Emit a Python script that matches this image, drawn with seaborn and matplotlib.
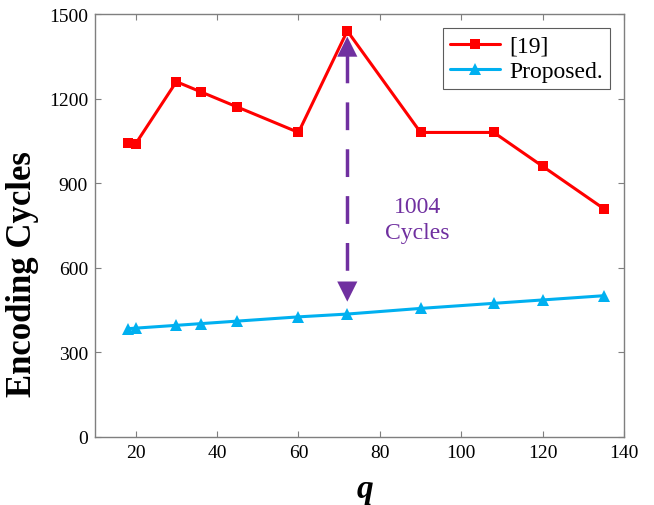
import matplotlib
matplotlib.use("Agg")
import matplotlib.pyplot as plt
import seaborn as sns
import pandas as pd

q_values = [18, 20, 30, 36, 45, 60, 72, 90, 108, 120, 135]
ref19_cycles = [1044, 1040, 1260, 1224, 1170, 1080, 1440, 1080, 1080, 960, 810]
proposed_cycles = [384, 386, 396, 402, 411, 426, 436, 456, 474, 486, 501]
series_names = ["[19]", "Proposed."]
x_ticks = [20, 40, 60, 80, 100, 120, 140]
y_ticks = [0, 300, 600, 900, 1200, 1500]
gap_label = "1004\nCycles"
arrow_q = 72
arrow_low = 480
arrow_high = 1420

sns.set_theme(style="ticks")
plt.rcParams["font.family"] = ["Liberation Serif", "DejaVu Serif"]
plt.rcParams["text.color"] = "black"
plt.rcParams["xtick.labelcolor"] = "black"
plt.rcParams["ytick.labelcolor"] = "black"
plt.rcParams["axes.labelcolor"] = "black"

red = "#FF0000"
blue = "#00B0F0"
purple = "#7030A0"
spine_col = "#7F7F7F"

df19 = pd.DataFrame({"q": q_values, "cycles": ref19_cycles, "method": series_names[0]})
dfp = pd.DataFrame({"q": q_values, "cycles": proposed_cycles, "method": series_names[1]})

fig = plt.figure(figsize=(6.54, 5.06), dpi=100)
ax = fig.add_axes([95 / 654, 1 - 438 / 506, (624 - 95) / 654, (438 - 15) / 506])

sns.lineplot(data=df19, x="q", y="cycles", ax=ax, color=red, marker="s",
             markersize=6.5, markeredgewidth=0, linewidth=2.2, label=series_names[0])
sns.lineplot(data=dfp, x="q", y="cycles", ax=ax, color=blue, marker="^",
             markersize=9, markeredgewidth=0, linewidth=2.2, label=series_names[1])

# dashed gap arrow (shaft drawn top to bottom so dashes start at the top head)
head = 66
ax.plot([arrow_q, arrow_q], [arrow_high - head, arrow_low + head], color=purple,
        linewidth=2.5, dashes=(8, 5.5), dash_capstyle="butt")
ax.annotate("", xy=(arrow_q, arrow_high), xytext=(arrow_q, arrow_high - head),
            arrowprops=dict(arrowstyle="-|>,head_length=1.0,head_width=0.5",
                            color=purple, lw=0, mutation_scale=14.5, shrinkA=0, shrinkB=0))
ax.annotate("", xy=(arrow_q, arrow_low), xytext=(arrow_q, arrow_low + head),
            arrowprops=dict(arrowstyle="-|>,head_length=1.0,head_width=0.5",
                            color=purple, lw=0, mutation_scale=14.5, shrinkA=0, shrinkB=0))
ax.text(89.2, 772, gap_label, color=purple, fontsize=17, ha="center", va="center",
        linespacing=1.3)

ax.set_xlim(10, 140)
ax.set_ylim(0, 1500)
ax.set_xticks(x_ticks)
ax.set_yticks(y_ticks)
ax.tick_params(axis="both", which="both", direction="in", length=4, width=0.8,
               color=spine_col, labelsize=14, labelcolor="black", top=True, right=True, pad=5)
for s in ax.spines.values():
    s.set_color(spine_col)
    s.set_linewidth(1.0)

ax.set_xlabel("q", fontsize=24, fontweight="bold", fontstyle="italic")
ax.xaxis.set_label_coords(0.51, -0.084)
ax.set_ylabel("Encoding Cycles", fontsize=25, fontweight="bold")
ax.yaxis.set_label_coords(-0.105, 0.388)

leg = ax.legend(loc="upper right", fontsize=17, frameon=True, fancybox=False,
                handlelength=2.1, handletextpad=0.4, borderpad=0.3, labelspacing=0.15,
                borderaxespad=0.6)
leg.get_frame().set_edgecolor("#333333")
leg.get_frame().set_linewidth(0.8)

fig.savefig("out.png", dpi=100)
